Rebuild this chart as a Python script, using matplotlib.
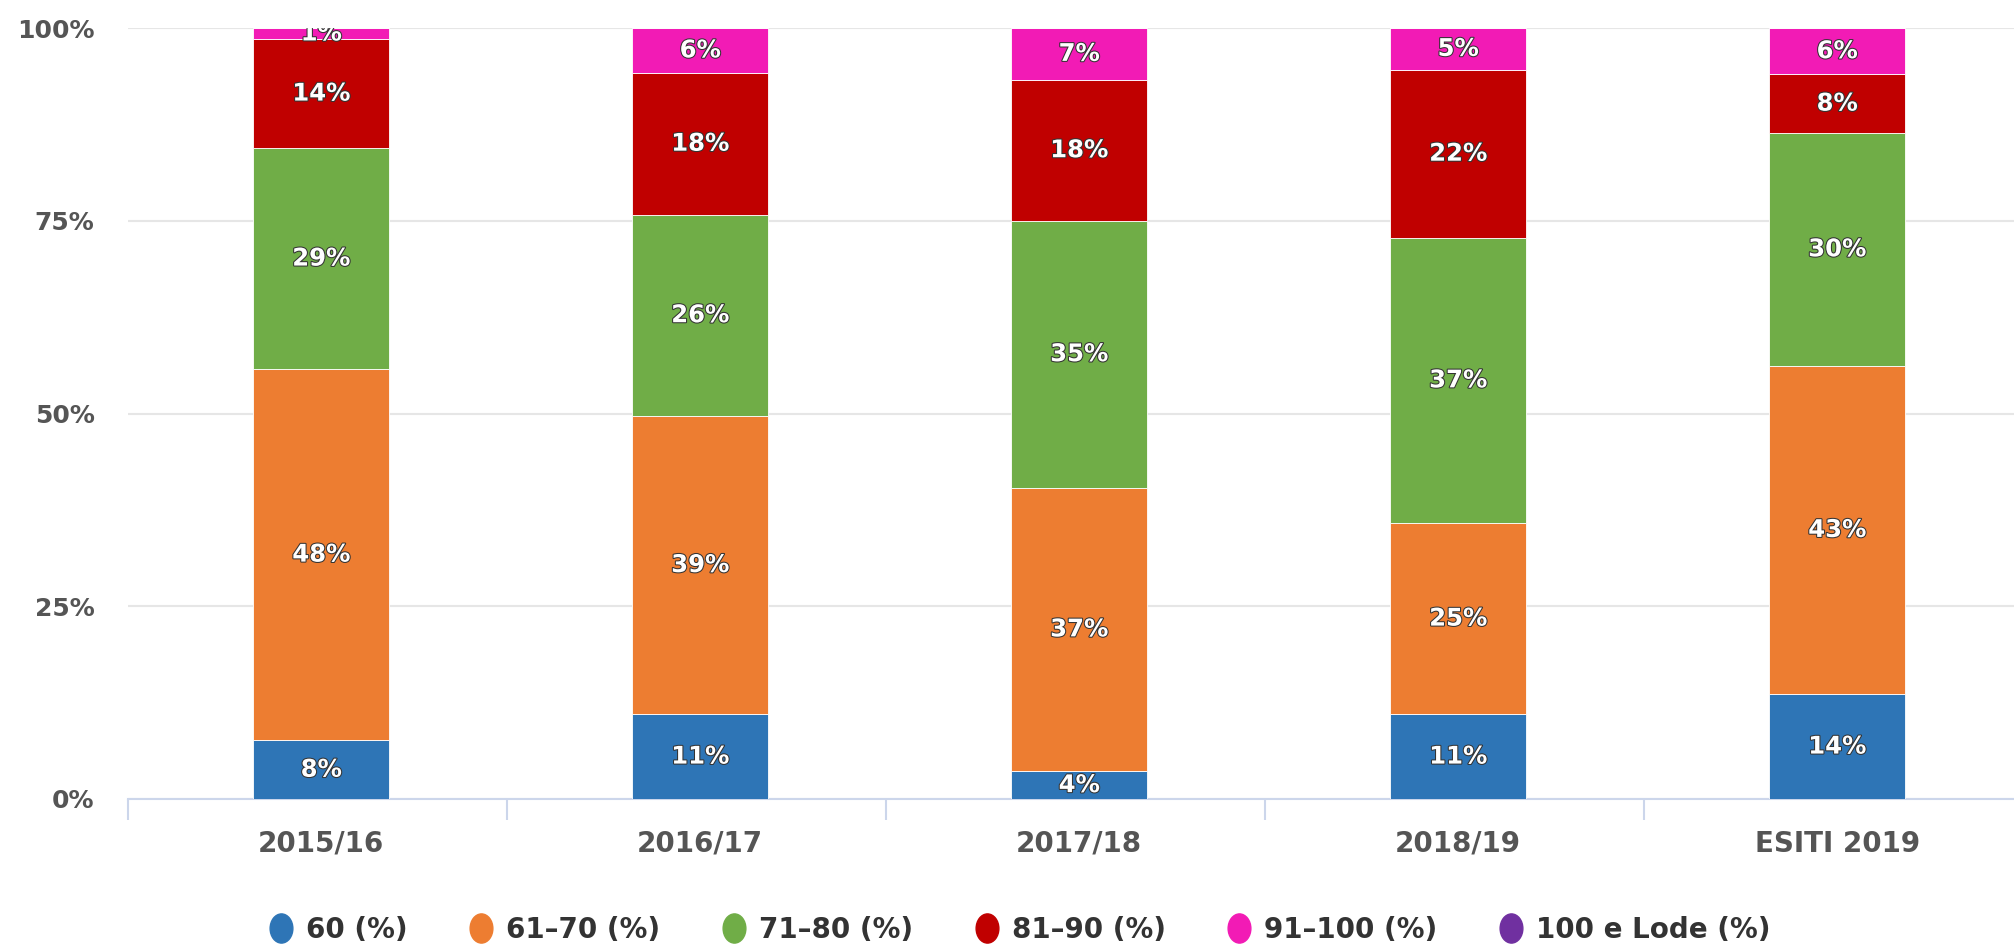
import matplotlib
matplotlib.use("Agg")
import matplotlib.pyplot as plt
import matplotlib.patheffects as pe
from matplotlib.path import Path
from matplotlib.transforms import Affine2D
from matplotlib.lines import Line2D
import numpy as np

plt.rcParams['font.family'] = ['DejaVu Sans']

categories = ["2015/16", "2016/17", "2017/18", "2018/19", "ESITI 2019"]
series_names = ["60 (%)", "61–70 (%)", "71–80 (%)", "81–90 (%)", "91–100 (%)", "100 e Lode (%)"]
v60 = [7.6, 11.0, 3.6, 11.0, 13.6]
v61_70 = [48.2, 38.7, 36.8, 24.8, 42.6]
v71_80 = [28.6, 26.1, 34.6, 37.0, 30.2]
v81_90 = [14.2, 18.4, 18.3, 21.8, 7.6]
v91_100 = [1.4, 5.8, 6.7, 5.4, 6.0]
v100_lode = [0, 0, 0, 0, 0]
colors = ["#2E75B6", "#ED7D31", "#70AD47", "#C00000", "#F21BB5", "#7030A0"]

series = [v60, v61_70, v71_80, v81_90, v91_100, v100_lode]
data = np.array(series, dtype=float)
pct = data / data.sum(axis=0) * 100

fig = plt.figure(figsize=(20.15, 9.47), dpi=100)
ax = fig.add_axes([0.0635, 0.1563, 0.9404, 0.8141])

x = np.arange(len(categories))
bottom = np.zeros(len(categories))
for vals, c in zip(pct, colors):
    ax.bar(x + 0.01, vals, bottom=bottom, width=0.36, color=c, edgecolor='white', linewidth=0.6, zorder=3)
    for xi, b, v in zip(x, bottom, vals):
        if v <= 0:
            continue
        ax.text(xi + 0.01, b + v / 2, f"{int(np.floor(v + 0.5))}%", ha='center', va='center',
                color='white', fontsize=17.5, fontweight='bold', zorder=5, clip_on=True,
                path_effects=[pe.withStroke(linewidth=1.5, foreground='#333333')])
    bottom += vals

ax.set_xlim(-0.5, 4.5)
ax.set_ylim(0, 100)
ax.set_yticks([0, 25, 50, 75, 100])
ax.set_yticklabels(["0%", "25%", "50%", "75%", "100%"])
ax.yaxis.grid(True, color='#e6e6e6', linewidth=1.5, zorder=0)
ax.tick_params(axis='y', length=0, pad=24, labelsize=18, labelcolor='#555555')
for lab in ax.get_yticklabels():
    lab.set_fontweight('bold')

ax.set_xticks(x + 0.01)
ax.set_xticklabels(categories)
ax.tick_params(axis='x', length=0, pad=22, labelsize=20, labelcolor='#555555')
for lab in ax.get_xticklabels():
    lab.set_fontweight('bold')
ax.set_xticks(np.arange(-0.5, 5, 1), minor=True)
ax.tick_params(axis='x', which='minor', length=15, width=1.5, color='#ccd6eb')

for s in ['top', 'right', 'left']:
    ax.spines[s].set_visible(False)
ax.spines['bottom'].set_color('#ccd6eb')
ax.spines['bottom'].set_linewidth(1.5)

oval = Path.unit_circle().transformed(Affine2D().scale(0.78, 1.0))
handles = [Line2D([], [], marker=oval, linestyle='none', markersize=21,
                  markerfacecolor=c, markeredgecolor=c) for c in colors]
leg = fig.legend(handles, series_names, loc='center', bbox_to_anchor=(0.505, 0.018),
                 ncol=6, frameon=False, fontsize=20, handletextpad=0.3,
                 columnspacing=2.05, handlelength=1.2)
for t in leg.get_texts():
    t.set_color('#333333')
    t.set_fontweight('bold')

fig.savefig("out.png", dpi=100)
